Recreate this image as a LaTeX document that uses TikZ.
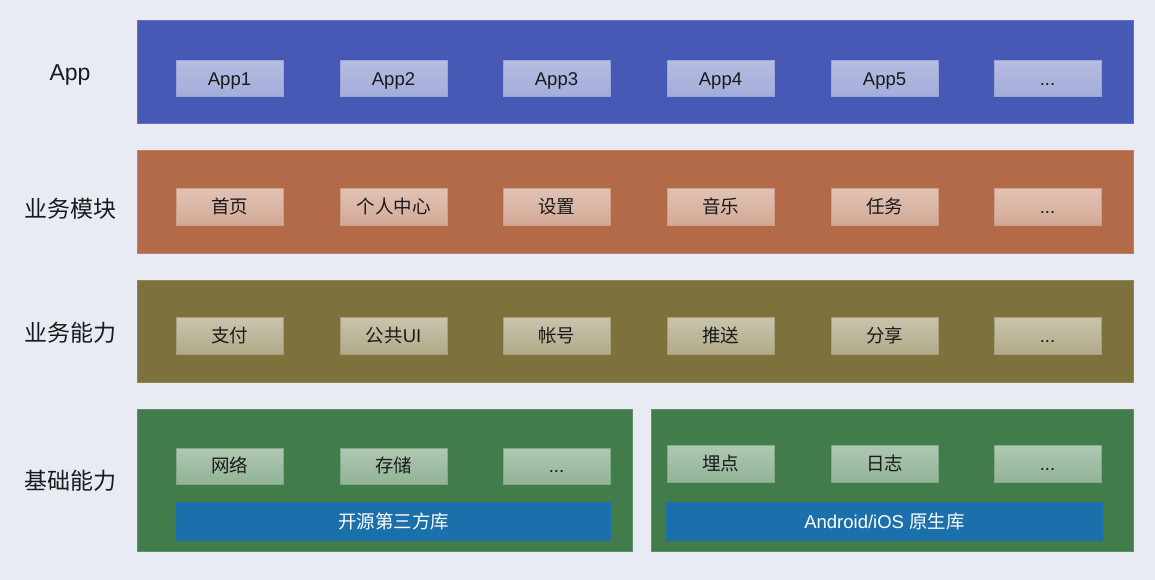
\documentclass[tikz,border=0pt]{standalone}
\usepackage{fontspec}
\setmainfont{Liberation Sans}
\newfontfamily\cjkfont{Noto Sans CJK SC}
\usepackage{tikz}
\usetikzlibrary{positioning}

\definecolor{bgcol}{HTML}{E8EBF4}
\definecolor{appcol}{HTML}{4759B5}
\definecolor{modcol}{HTML}{B36A48}
\definecolor{abilcol}{HTML}{7D723B}
\definecolor{basecol}{HTML}{427C4A}
\definecolor{barcol}{HTML}{1B6FAA}
\definecolor{txtcol}{HTML}{1A1A1A}

\tikzset{
    layer/.style={line width=1pt},
    rowlabel/.style={text=txtcol, font=\fontsize{23}{27}\selectfont},
    boxtext/.style={text=txtcol, font=\fontsize{18.5}{22}\selectfont, text height=17pt, text depth=4pt},
    bartext/.style={text=white, font=\fontsize{18.5}{22}\selectfont, text height=17pt, text depth=4pt},
    appbox/.style={top color=appcol!40!white, bottom color=appcol!50!white, draw=appcol!55!white, line width=1pt},
    modbox/.style={top color=modcol!40!white, bottom color=modcol!58!white, draw=modcol!65!white, line width=1pt},
    abilbox/.style={top color=abilcol!42!white, bottom color=abilcol!60!white, draw=abilcol!68!white, line width=1pt},
    basebox/.style={top color=basecol!42!white, bottom color=basecol!58!white, draw=basecol!66!white, line width=1pt},
}

\begin{document}
\begin{tikzpicture}[x=1pt, y=-1pt]
    % Background
    \fill[bgcol] (0,0) rectangle (1155,580);

    % Row labels
    \node[rowlabel] (lapp) at (70,75) {App};
    \node[rowlabel] (lmod) at (70,209) {\cjkfont 业务模块};
    \node[rowlabel] (labil) at (70,333) {\cjkfont 业务能力};
    \node[rowlabel] (lbase) at (70,481) {\cjkfont 基础能力};

    % Layers
    \draw[layer, fill=appcol, draw=appcol!85!white] (137,21) rectangle (1133,124) node[pos=.5] (applayer) {};
    \draw[layer, fill=modcol, draw=modcol!85!white] (137,151) rectangle (1133,253) node[pos=.5] (modlayer) {};
    \draw[layer, fill=abilcol, draw=abilcol!85!white] (137,280) rectangle (1133,382) node[pos=.5] (abillayer) {};
    \draw[layer, fill=basecol, draw=basecol!85!white] (137,409) rectangle (632,551) node[pos=.5] (baseleft) {};
    \draw[layer, fill=basecol, draw=basecol!85!white] (651,409) rectangle (1133,551) node[pos=.5] (baseright) {};

    % App
    \path[appbox] (176,61) rectangle (283,97) node[pos=.5, boxtext] (app1) {App1};
    \path[appbox] (340,61) rectangle (447,97) node[pos=.5, boxtext] (app2) {App2};
    \path[appbox] (503,61) rectangle (610,97) node[pos=.5, boxtext] (app3) {App3};
    \path[appbox] (667,61) rectangle (774,97) node[pos=.5, boxtext] (app4) {App4};
    \path[appbox] (831,61) rectangle (938,97) node[pos=.5, boxtext] (app5) {App5};
    \path[appbox] (994,61) rectangle (1101,97) node[pos=.5, boxtext] (appmore) {...};

    % Business modules
    \path[modbox] (176,188) rectangle (283,225) node[pos=.5, boxtext] (home) {\cjkfont 首页};
    \path[modbox] (340,188) rectangle (447,225) node[pos=.5, boxtext] (center) {\cjkfont 个人中心};
    \path[modbox] (503,188) rectangle (610,225) node[pos=.5, boxtext] (settings) {\cjkfont 设置};
    \path[modbox] (667,188) rectangle (774,225) node[pos=.5, boxtext] (music) {\cjkfont 音乐};
    \path[modbox] (831,188) rectangle (938,225) node[pos=.5, boxtext] (tasks) {\cjkfont 任务};
    \path[modbox] (994,188) rectangle (1101,225) node[pos=.5, boxtext] (modmore) {...};

    % Business abilities
    \path[abilbox] (176,317) rectangle (283,354) node[pos=.5, boxtext] (pay) {\cjkfont 支付};
    \path[abilbox] (340,317) rectangle (447,354) node[pos=.5, boxtext] (commonui) {{\cjkfont 公共}UI};
    \path[abilbox] (503,317) rectangle (610,354) node[pos=.5, boxtext] (account) {\cjkfont 帐号};
    \path[abilbox] (667,317) rectangle (774,354) node[pos=.5, boxtext] (push) {\cjkfont 推送};
    \path[abilbox] (831,317) rectangle (938,354) node[pos=.5, boxtext] (share) {\cjkfont 分享};
    \path[abilbox] (994,317) rectangle (1101,354) node[pos=.5, boxtext] (abilmore) {...};

    % Base abilities
    \path[basebox] (176,448) rectangle (283,484) node[pos=.5, boxtext] (network) {\cjkfont 网络};
    \path[basebox] (340,448) rectangle (447,484) node[pos=.5, boxtext] (storage) {\cjkfont 存储};
    \path[basebox] (503,448) rectangle (610,484) node[pos=.5, boxtext] (baselmore) {...};
    \path[basebox] (667,445) rectangle (774,482) node[pos=.5, boxtext] (tracking) {\cjkfont 埋点};
    \path[basebox] (831,445) rectangle (938,482) node[pos=.5, boxtext] (logging) {\cjkfont 日志};
    \path[basebox] (994,445) rectangle (1101,482) node[pos=.5, boxtext] (basermore) {...};

    % Libraries
    \fill[barcol] (176,502) rectangle (611,541) node[pos=.5, bartext] (opensrc) {\cjkfont 开源第三方库};
    \fill[barcol] (666,502) rectangle (1103,541) node[pos=.5, bartext] (native) {Android/iOS {\cjkfont 原生库}};
\end{tikzpicture}
\end{document}
